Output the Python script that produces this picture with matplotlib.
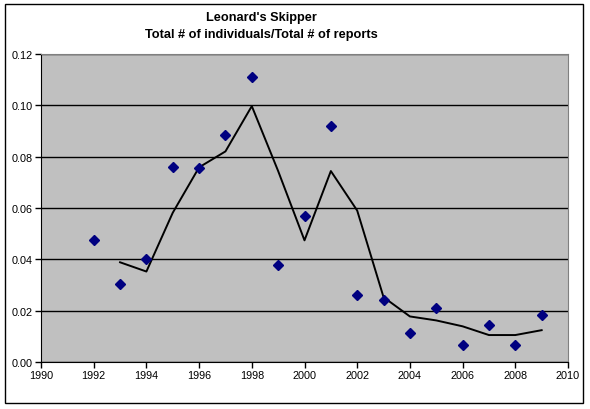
import matplotlib

matplotlib.use("Agg")
import matplotlib.pyplot as plt
import pandas as pd
from matplotlib.patches import Rectangle

# data
years = list(range(1992, 2010))
ratio = [0.0475, 0.0302, 0.0403, 0.0760, 0.0757, 0.0884, 0.1110, 0.0378,
         0.0570, 0.0918, 0.0262, 0.0243, 0.0112, 0.0212, 0.0066, 0.0144,
         0.0066, 0.0182]

# 2 period moving average (Excel trendline)
moving_avg = pd.Series(ratio).rolling(2).mean()

plt.rcParams["font.family"] = ["Liberation Sans", "DejaVu Sans"]

fig = plt.figure(figsize=(5.9, 4.1), dpi=100)
ax = fig.add_axes([41 / 590, 47 / 410, 527 / 590, 308 / 410])
ax.set_facecolor("#c0c0c0")

ax.plot(years, moving_avg, color="black", linewidth=1.4, zorder=3)
ax.plot(years, ratio, linestyle="none", marker="D", markersize=5,
        color="#000080", zorder=4)

ax.set_xlim(1990, 2010)
ax.set_ylim(0, 0.12)
ax.set_xticks(range(1990, 2011, 2))
ax.set_yticks([0, 0.02, 0.04, 0.06, 0.08, 0.10, 0.12])
ax.set_yticklabels(["0.00", "0.02", "0.04", "0.06", "0.08", "0.10", "0.12"])
ax.yaxis.grid(True, color="black", linewidth=1)
ax.set_axisbelow(True)
ax.tick_params(labelsize=7.8, length=4, width=1, colors="black",
               direction="out", pad=2)
for s in ["top", "right"]:
    ax.spines[s].set_color("#808080")
for s in ["left", "bottom"]:
    ax.spines[s].set_color("black")

# title sits left of centre, as in the original
tx = 261 / 590
fig.text(tx, 1 - 18 / 410, "Leonard's Skipper", ha="center", va="center",
         fontsize=9.2, fontweight="bold")
fig.text(tx, 1 - 35 / 410, "Total # of individuals/Total # of reports",
         ha="center", va="center", fontsize=9.2, fontweight="bold")

# outer chart border
fig.patches.append(Rectangle((5 / 590, 6 / 410), 578 / 590, 399 / 410,
                             transform=fig.transFigure, fill=False,
                             edgecolor="black", linewidth=1))

fig.savefig("out.png", dpi=100)
